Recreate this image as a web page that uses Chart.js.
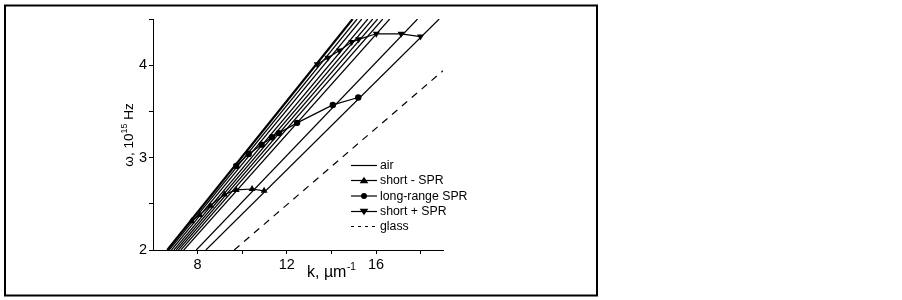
<!DOCTYPE html>
<html><head><meta charset="utf-8">
<script src="https://cdn.jsdelivr.net/npm/chart.js@4.4.1/dist/chart.umd.min.js"></script>
<style>html,body{margin:0;padding:0;background:#fff;}#wrap{position:absolute;left:0;top:0;width:902px;height:300px;}</style>
</head><body><div id="wrap"><canvas id="c" width="902" height="300"></canvas></div>
<script>
// light lines: k at omega = 2 and k at omega = 4.5
const lineOmega = [2, 4.5];
const lineStartK = [6.64, 6.73, 6.83, 6.94, 7.04, 7.14, 7.25, 7.38, 7.94, 8.37];
const lineEndK   = [14.95, 15.15, 15.36, 15.63, 15.85, 16.07, 16.30, 16.61, 17.86, 18.83];
// glass line
const glassK = [9.64, 19];
const glassOmega = [2, 3.94];
// short - SPR
const shortMinusK = [7.73, 8.09, 8.58, 9.20, 9.73, 10.44, 10.98];
const shortMinusW = [2.31, 2.38, 2.48, 2.60, 2.65, 2.66, 2.64];
// long-range SPR
const longK = [9.73, 10.29, 10.87, 11.33, 11.64, 12.46, 14.06, 15.20];
const longW = [2.91, 3.04, 3.14, 3.22, 3.265, 3.376, 3.57, 3.65];
// short + SPR
const shortPlusK = [13.36, 13.84, 14.36, 14.91, 15.22, 16.01, 17.12, 17.99];
const shortPlusW = [4.01, 4.08, 4.16, 4.25, 4.28, 4.34, 4.34, 4.31];
// ticks
const xTickValues = [8, 10, 12, 14, 16, 18];
const xTickLabels = ['8', '', '12', '', '16', ''];
const yTickValues = [2, 2.5, 3, 3.5, 4, 4.5];
const yTickLabels = ['2', '', '3', '', '4', ''];
const legendLabels = ['air', 'short - SPR', 'long-range SPR', 'short + SPR', 'glass'];

const FONT = '"Liberation Sans", Arial, sans-serif';
const pts = (ks, ws) => ks.map((k, i) => ({x: k, y: ws[i]}));

const datasets = [];
lineStartK.forEach((k0, i) => {
  datasets.push({
    label: i === 0 ? legendLabels[0] : '',
    data: [{x: k0, y: lineOmega[0]}, {x: lineEndK[i], y: lineOmega[1]}],
    showLine: true, borderColor: '#000', borderWidth: i === 0 ? 2.2 : 1.2,
    pointRadius: 0, fill: false
  });
});
datasets.push({label: legendLabels[4], data: pts(glassK, glassOmega), showLine: true,
  borderColor: '#000', borderWidth: 1.2, borderDash: [7, 6], pointRadius: 0});
const markerBase = {showLine: true, borderColor: '#000', backgroundColor: '#000', borderWidth: 1.2,
  pointBackgroundColor: '#000', pointBorderColor: '#000', pointBorderWidth: 0};
datasets.push(Object.assign({}, markerBase, {label: legendLabels[1], data: pts(shortMinusK, shortMinusW),
  pointStyle: 'triangle', pointRadius: 4}));
datasets.push(Object.assign({}, markerBase, {label: legendLabels[2], data: pts(longK, longW),
  pointStyle: 'circle', pointRadius: 3.2}));
datasets.push(Object.assign({}, markerBase, {label: legendLabels[3], data: pts(shortPlusK, shortPlusW),
  pointStyle: 'triangle', pointRotation: 180, pointRadius: 4}));

function drawMarker(ctx, style, rot, r, x, y) {
  ctx.save(); ctx.fillStyle = '#000'; ctx.beginPath();
  if (style === 'circle') { ctx.arc(x, y, r, 0, Math.PI * 2); }
  else {
    const s = rot ? -1 : 1;
    const h = r * 1.5;
    ctx.moveTo(x, y - s * h * 0.67);
    ctx.lineTo(x - r * 1.15, y + s * h * 0.5);
    ctx.lineTo(x + r * 1.15, y + s * h * 0.5);
    ctx.closePath();
  }
  ctx.fill(); ctx.restore();
}

const decor = {
  id: 'decor',
  afterDraw(chart) {
    const ctx = chart.ctx;
    ctx.save();
    // frame
    ctx.strokeStyle = '#000'; ctx.lineWidth = 2;
    ctx.strokeRect(5, 5.5, 592, 290);
    ctx.fillStyle = '#000';
    // x title
    ctx.textBaseline = 'alphabetic'; ctx.textAlign = 'left';
    ctx.font = '16px ' + FONT;
    const t1 = 'k, \u00b5m';
    ctx.fillText(t1, 307, 277);
    const w1 = ctx.measureText(t1).width;
    ctx.font = '10px ' + FONT;
    ctx.fillText('-1', 307 + w1 + 0.5, 270);
    // y title
    ctx.save();
    ctx.translate(133, 135);
    ctx.rotate(-Math.PI / 2);
    ctx.font = '13.5px ' + FONT;
    const a = '\u03c9, 10', c = ' Hz';
    const wa = ctx.measureText(a).width, wc = ctx.measureText(c).width;
    ctx.font = '9px ' + FONT;
    const wb = ctx.measureText('15').width;
    let x0 = -(wa + wb + wc) / 2;
    ctx.font = '13.5px ' + FONT;
    ctx.fillText(a, x0, 0);
    ctx.font = '9px ' + FONT;
    ctx.fillText('15', x0 + wa, -6);
    ctx.font = '13.5px ' + FONT;
    ctx.fillText(c, x0 + wa + wb, 0);
    ctx.restore();
    // legend
    const ly = [165, 180, 195.5, 211, 226];
    const styles = [null, ['triangle', 0, 3.8], ['circle', 0, 3], ['triangle', 180, 3.8], 'dash'];
    ctx.font = '12.3px ' + FONT;
    ctx.textBaseline = 'middle';
    legendLabels.forEach((lab, i) => {
      const y = ly[i];
      ctx.beginPath();
      ctx.lineWidth = 1.2;
      if (styles[i] === 'dash') ctx.setLineDash([3, 4]); else ctx.setLineDash([]);
      ctx.moveTo(351, y + 0.5); ctx.lineTo(377, y + 0.5); ctx.stroke();
      ctx.setLineDash([]);
      if (Array.isArray(styles[i])) drawMarker(ctx, styles[i][0], styles[i][1], styles[i][2], 364, y + 0.5);
      ctx.fillText(lab, 380, y + 1);
    });
    ctx.restore();
  }
};

new Chart(document.getElementById('c'), {
  type: 'scatter',
  data: {datasets},
  options: {
    responsive: false, animation: false, devicePixelRatio: 1,
    layout: {padding: {left: 113, right: 459, top: 19, bottom: 20}},
    plugins: {legend: {display: false}, tooltip: {enabled: false}},
    elements: {line: {tension: 0}},
    scales: {
      x: {
        type: 'linear', min: 6, max: 19, position: 'bottom',
        afterBuildTicks: s => { s.ticks = xTickValues.map(v => ({value: v})); },
        afterFit: s => { s.height = 30; },
        grid: {drawOnChartArea: false, drawTicks: true, tickLength: 4, tickColor: '#000'},
        border: {display: true, color: '#000', width: 1},
        ticks: {autoSkip: false, maxRotation: 0, padding: 2, color: '#000',
          font: {family: FONT, size: 14.5},
          callback: (v) => { const i = xTickValues.indexOf(v); return i >= 0 ? xTickLabels[i] : ''; }}
      },
      y: {
        type: 'linear', min: 2, max: 4.5,
        afterBuildTicks: s => { s.ticks = yTickValues.map(v => ({value: v})); },
        afterFit: s => { s.width = 40; },
        grid: {drawOnChartArea: false, drawTicks: true, tickLength: 4, tickColor: '#000'},
        border: {display: true, color: '#000', width: 1},
        ticks: {autoSkip: false, padding: 2, color: '#000',
          font: {family: FONT, size: 14.5},
          callback: (v) => { const i = yTickValues.indexOf(v); return i >= 0 ? yTickLabels[i] : ''; }}
      }
    }
  },
  plugins: [decor]
});
</script></body></html>
